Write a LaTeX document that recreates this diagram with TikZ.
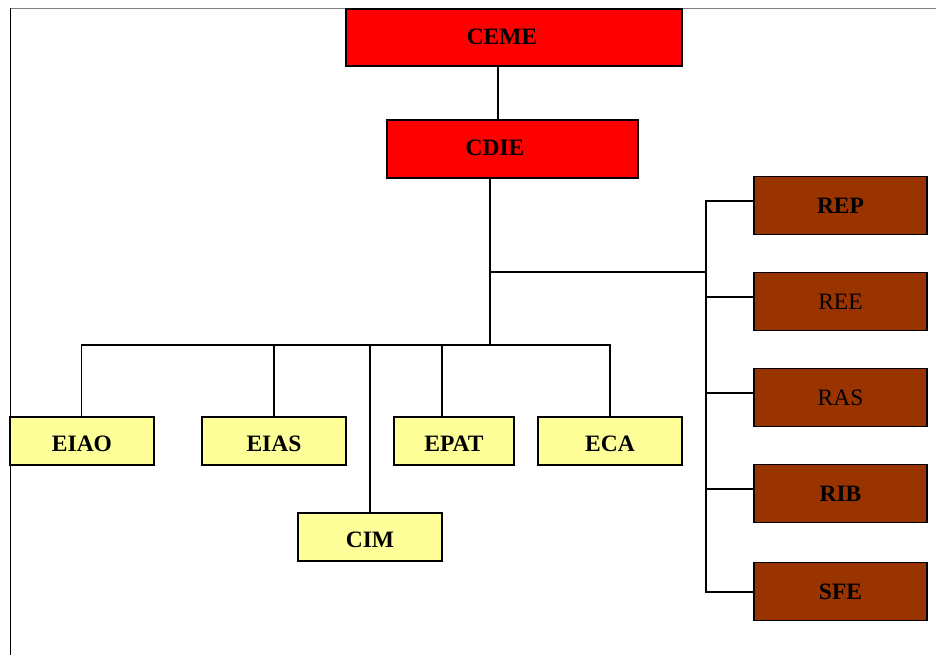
\documentclass[tikz,border=0pt]{standalone}
\usepackage{fontspec}
\setmainfont{Liberation Serif}
\begin{document}
\begin{tikzpicture}[x=1pt,y=-1pt,
  box/.style={draw=black,line width=1.6pt,inner sep=0pt,font=\fontsize{23.5}{26}\selectfont\bfseries},
  redbox/.style={box,fill=red,text height=15.6pt,text depth=2pt},
  brownbox/.style={box,fill={rgb,255:red,153;green,51;blue,0}},
  yelbox/.style={box,fill={rgb,255:red,255;green,255;blue,153},text height=21pt,text depth=0pt},
  plain/.style={font=\fontsize{23.5}{26}\selectfont\mdseries},
  conn/.style={draw=black,line width=1.4pt}]
\useasboundingbox (0,0) rectangle (936,655);
\draw[gray,line width=1.3pt] (10,8.5) -- (936,8.5);
\draw[black,line width=1pt] (10,8.5) -- (10,655);
% top
\node[redbox,minimum width=336pt,minimum height=57pt] (ceme) at (514,37.5) {CEME\kern24pt};
\node[redbox,minimum width=251pt,minimum height=58pt] (cdie) at (512.5,149) {CDIE\kern35pt};
% right column
\node[brownbox,minimum width=173pt,minimum height=58pt] (rep) at (840.5,205.5) {REP};
\node[brownbox,plain,minimum width=173pt,minimum height=58pt] (ree) at (840.5,301.5) {REE};
\node[brownbox,plain,minimum width=173pt,minimum height=58pt] (ras) at (840.5,397.5) {RAS};
\node[brownbox,minimum width=173pt,minimum height=58pt] (rib) at (840.5,493.5) {RIB};
\node[brownbox,minimum width=173pt,minimum height=58pt] (sfe) at (840.5,591.5) {SFE};
% bottom row
\node[yelbox,minimum width=144pt,minimum height=48pt] (eiao) at (82,441) {EIAO};
\node[yelbox,minimum width=144pt,minimum height=48pt] (eias) at (274,441) {EIAS};
\node[yelbox,minimum width=120pt,minimum height=48pt] (epat) at (454,441) {EPAT};
\node[yelbox,minimum width=144pt,minimum height=48pt] (eca) at (610,441) {ECA};
\node[yelbox,minimum width=144pt,minimum height=48pt] (cim) at (370,537) {CIM};
% junctions
\coordinate (t1) at (490,272);
\coordinate (t2) at (490,345);
\coordinate (rb) at (706,272);
% connectors
\draw[conn] (ceme.south -| 498,0) -- (cdie.north -| 498,0);
\draw[conn] (cdie.south -| t1) -- (t2);
\draw[conn] (t1) -- (rb);
\draw[conn] (rep.west |- 0,201) -- (706,201) -- (706,592) -- (sfe.west |- 0,592);
\draw[conn] (ree.west |- 0,297) -- (706,297);
\draw[conn] (ras.west |- 0,393) -- (706,393);
\draw[conn] (rib.west |- 0,489) -- (706,489);
\draw[conn] (eiao.north -| 81.5,0) -- (81.5,345) -- (610,345) -- (eca.north -| 610,0);
\draw[conn] (eias.north -| 274,0) -- (274,345);
\draw[conn] (epat.north -| 442,0) -- (442,345);
\draw[conn] (cim.north -| 370,0) -- (370,345);
\end{tikzpicture}
\end{document}
